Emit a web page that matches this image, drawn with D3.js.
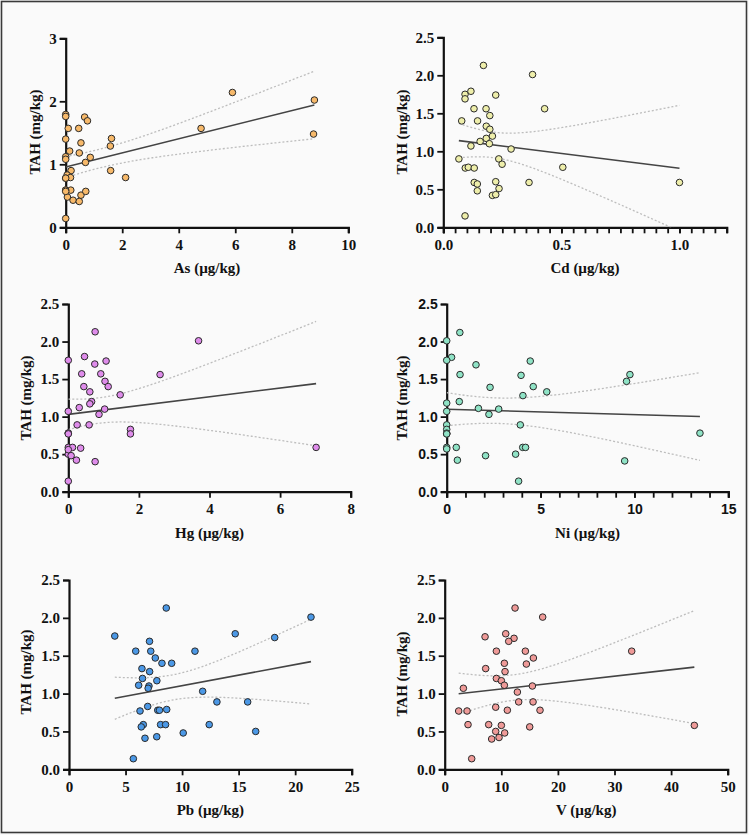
<!DOCTYPE html>
<html><head><meta charset="utf-8">
<script src="https://cdn.jsdelivr.net/npm/d3@7"></script>
<style>
html,body{margin:0;padding:0;background:#fafafa;}
svg{display:block;}
</style></head>
<body>
<svg id="chart" width="749" height="835"></svg>
<script>
// ---------- data ----------
const asX = [0,0,0,0.09,0.14,0,0,0.19,0.05,0,0.17,0,0.18,0.06,0.26,0,0.46,0.67,0.77,0.54,0.48,0.87,0.70,0.54,0.48,0.71,1.58,1.62,1.59,2.12,4.79,5.90,8.80,8.77,0,0,0];
const asY = [1.79,1.76,1.40,1.57,1.21,1.12,1.08,0.90,0.83,0.78,0.79,0.59,0.59,0.48,0.43,0.14,1.57,1.75,1.69,1.34,1.18,1.11,1.03,0.51,0.41,0.57,1.29,1.41,0.90,0.79,1.57,2.14,2.02,1.48,0.78,0.59,0.57];

const cdX = [0.170,0.378,0.092,0.117,0.092,0.222,0.130,0.181,0.429,0.197,0.078,0.145,0.182,0.197,0.182,0.208,0.156,0.195,0.117,0.287,0.066,0.235,0.249,0.093,0.106,0.131,0.506,0.131,0.144,0.144,0.222,0.236,0.208,0.222,0.363,0.092,1.0];
const cdY = [2.13,2.01,1.75,1.79,1.69,1.74,1.56,1.56,1.56,1.47,1.40,1.40,1.33,1.29,1.17,1.20,1.13,1.10,1.07,1.03,0.90,0.90,0.83,0.78,0.79,0.78,0.79,0.59,0.57,0.48,0.60,0.51,0.42,0.43,0.59,0.15,0.59];

const hgX = [0.76,3.69,0,0.46,0.75,1.07,0.38,0.92,2.60,1.04,0.44,1.13,0.61,1.47,0.66,0.61,0.31,1.03,0,0.87,0.25,0.59,0,1.76,1.76,0,0.12,0.35,0,0.08,0.23,0.76,0,7.02,0,0,0];
const hgY = [2.13,2.01,1.75,1.80,1.70,1.74,1.57,1.57,1.56,1.47,1.40,1.40,1.33,1.29,1.20,1.17,1.12,1.10,1.07,1.03,0.89,0.89,0.78,0.83,0.77,0.59,0.59,0.58,0.50,0.48,0.42,0.40,0.14,0.59,0.78,0.77,0.56];

const niX = [0.70,0,0.26,0,1.56,4.45,0.71,3.96,9.76,9.58,2.31,4.61,5.33,4.06,0,0.67,1.69,2.77,0,2.25,0,3.92,0,0,13.49,0,0,0.51,4.05,4.20,0.57,2.07,3.67,9.48,3.83,0,0];
const niY = [2.12,2.01,1.79,1.75,1.69,1.74,1.56,1.55,1.56,1.47,1.39,1.40,1.33,1.28,1.18,1.20,1.11,1.10,1.07,1.03,0.89,0.89,0.83,0.78,0.78,0.59,0.57,0.59,0.59,0.59,0.42,0.48,0.50,0.41,0.14,0.77,0.77];

const pbX = [4.05,8.60,21.40,14.70,18.19,5.90,7.12,7.23,11.14,7.63,8.22,9.08,6.45,7.13,6.50,7.77,6.16,7.07,7.00,11.82,13.08,15.80,6.96,6.28,7.85,8.00,8.64,6.57,6.39,8.10,8.54,12.40,6.72,7.76,10.10,16.51,5.69];
const pbY = [1.76,2.13,2.01,1.79,1.74,1.56,1.69,1.56,1.56,1.47,1.40,1.40,1.33,1.29,1.20,1.17,1.11,1.10,1.07,1.03,0.89,0.89,0.83,0.77,0.78,0.78,0.79,0.59,0.56,0.59,0.59,0.59,0.41,0.43,0.48,0.50,0.14];

const vX = [12.43,17.31,10.78,12.25,7.13,11.31,9.13,14.25,15.67,33.04,10.54,14.43,7.24,10.66,9.13,10.01,10.54,3.30,15.49,12.84,13.07,15.61,9.01,2.47,3.95,11.07,16.84,4.12,7.77,10.01,15.02,44.11,9.01,10.60,8.30,9.60,4.77];
const vY = [2.13,2.01,1.79,1.73,1.75,1.69,1.56,1.56,1.47,1.56,1.40,1.39,1.33,1.29,1.20,1.17,1.11,1.07,1.10,1.02,0.89,0.89,0.82,0.77,0.77,0.78,0.78,0.59,0.59,0.58,0.56,0.58,0.50,0.48,0.40,0.42,0.14];

const xTitles = ["As (µg/kg)","Cd (µg/kg)","Hg (µg/kg)","Ni (µg/kg)","Pb (µg/kg)","V (µg/kg)"];
const yTitle = "TAH (mg/kg)";
const xTickVals = [[0,2,4,6,8,10],[0,0.5,1.0],[0,2,4,6,8],[0,5,10,15],[0,5,10,15,20,25],[0,10,20,30,40,50]];
const xTickLabels = [["0","2","4","6","8","10"],["0.0","0.5","1.0"],["0","2","4","6","8"],["0","5","10","15"],["0","5","10","15","20","25"],["0","10","20","30","40","50"]];
const yTickVals = [[0,1,2,3],[0,0.5,1,1.5,2,2.5],[0,0.5,1,1.5,2,2.5],[0,0.5,1,1.5,2,2.5],[0,0.5,1,1.5,2,2.5],[0,0.5,1,1.5,2,2.5]];
const yTickLabels = [["0","1","2","3"],["0.0","0.5","1.0","1.5","2.0","2.5"],["0.0","0.5","1.0","1.5","2.0","2.5"],["0.0","0.5","1.0","1.5","2.0","2.5"],["0.0","0.5","1.0","1.5","2.0","2.5"],["0.0","0.5","1.0","1.5","2.0","2.5"]];
const xMinorVals = [[], d3.range(0,1.2001,0.05), [], d3.range(0,15.001,1), [], []];
const xDomains = [[0,10],[0,1.2],[0,8],[0,15],[0,25],[0,50]];
const yDomains = [[0,3],[0,2.5],[0,2.5],[0,2.5],[0,2.5],[0,2.5]];
const fills = ["#f7b96a","#eeeeaa","#df8ceb","#8fe3c6","#4b98e6","#ef9a98"];

// ---------- layout ----------
const panels = [
  {x:[65.7,348.3], y:[227.3,38.3], ty:132, tx:39.5},
  {x:[443.3,726.7], y:[227.3,37.3], ty:132, tx:407},
  {x:[68.3,350.7], y:[491.7,304], ty:398, tx:31},
  {x:[446.7,728.3], y:[491.7,304], ty:398, tx:407},
  {x:[69,351.7], y:[769.3,580], ty:672, tx:31},
  {x:[444.7,727.7], y:[769.3,580], ty:674, tx:407}
];
const seriesX = [asX,cdX,hgX,niX,pbX,vX];
const seriesY = [asY,cdY,hgY,niY,pbY,vY];

const SERIF = "Liberation Serif";
const SANS = "Liberation Sans";

const svg = d3.select("#chart");
svg.append("rect").attr("x",0).attr("y",0).attr("width",749).attr("height",835).attr("fill","#fafafa");
svg.append("rect").attr("x",1.5).attr("y",1.5).attr("width",745).attr("height",831)
   .attr("fill","none").attr("stroke","#3a3a3a").attr("stroke-width",1.6);

function fit(xs, ys){
  const n = xs.length;
  const mx = d3.mean(xs), my = d3.mean(ys);
  let sxx=0, sxy=0;
  for(let i=0;i<n;i++){ sxx += (xs[i]-mx)**2; sxy += (xs[i]-mx)*(ys[i]-my); }
  const b = sxy/sxx, a = my - b*mx;
  let sse=0; for(let i=0;i<n;i++){ sse += (ys[i]-a-b*xs[i])**2; }
  const s = Math.sqrt(sse/(n-2));
  return {a,b,s,n,mx,sxx};
}

panels.forEach((p,i)=>{
  const xs = d3.scaleLinear().domain(xDomains[i]).range(p.x);
  const ys = d3.scaleLinear().domain(yDomains[i]).range(p.y);
  const g = svg.append("g");
  const tickFam = (i===3) ? SANS : SERIF;
  const tickSize = (i===3) ? 14 : 15;

  if(xMinorVals[i].length){
    const minor = d3.axisBottom(xs).tickValues(xMinorVals[i]).tickSize(6).tickFormat("");
    const mg = g.append("g").attr("transform",`translate(0,${p.y[0]})`).call(minor);
    mg.select(".domain").remove();
    mg.selectAll("line").attr("stroke","#111").attr("stroke-width",1.8);
  }
  const xAxis = d3.axisBottom(xs).tickValues(xTickVals[i]).tickSize(6).tickPadding(6)
     .tickFormat((d,k)=>xTickLabels[i][k]);
  const xg = g.append("g").attr("transform",`translate(0,${p.y[0]})`).call(xAxis);
  const yAxis = d3.axisLeft(ys).tickValues(yTickVals[i]).tickSize(6).tickPadding(3)
     .tickFormat((d,k)=>yTickLabels[i][k]);
  const yg = g.append("g").attr("transform",`translate(${p.x[0]},0)`).call(yAxis);
  [xg,yg].forEach(ax=>{
    ax.attr("font-family",tickFam).attr("font-size",tickSize).attr("font-weight","bold");
    ax.select(".domain").attr("stroke","#111").attr("stroke-width",2.2);
    ax.selectAll(".tick line").attr("stroke","#111").attr("stroke-width",1.8);
    ax.selectAll(".tick text").attr("fill","#111");
  });

  // regression + 95% CI
  const X = seriesX[i], Y = seriesY[i];
  const f = fit(X,Y);
  const t = 2.03;
  const x0 = d3.min(X), x1 = d3.max(X);
  const grid = d3.range(0,101).map(k=>x0 + (x1-x0)*k/100);
  const se = x => f.s*Math.sqrt(1/f.n + (x-f.mx)**2/f.sxx);
  const clipId = "clip"+i;
  svg.append("clipPath").attr("id",clipId).append("rect")
     .attr("x",p.x[0]).attr("y",p.y[1]-2).attr("width",p.x[1]-p.x[0]).attr("height",p.y[0]-p.y[1]+2);
  const line = d3.line().x(d=>xs(d[0])).y(d=>ys(d[1]));
  const gc = g.append("g").attr("clip-path",`url(#${clipId})`);
  [1,-1].forEach(sg=>{
    gc.append("path").attr("d", line(grid.map(x=>[x, f.a+f.b*x + sg*t*se(x)])))
      .attr("fill","none").attr("stroke","#bdbdbd").attr("stroke-width",1.3).attr("stroke-dasharray","2,2");
  });
  gc.append("path").attr("d", line([[x0,f.a+f.b*x0],[x1,f.a+f.b*x1]]))
    .attr("fill","none").attr("stroke","#444").attr("stroke-width",1.6);

  g.selectAll("circle.pt").data(X.map((x,k)=>[x,Y[k]])).join("circle")
    .attr("class","pt").attr("cx",d=>xs(d[0])).attr("cy",d=>ys(d[1])).attr("r",3.3)
    .attr("fill",fills[i]).attr("stroke","#2a2a2a").attr("stroke-width",1);

  g.append("text").attr("x",(p.x[0]+p.x[1])/2).attr("y",p.y[0]+46)
    .attr("text-anchor","middle").attr("font-family",SERIF).attr("font-weight","bold")
    .attr("font-size",15).attr("fill","#111").text(xTitles[i]);
  g.append("text").attr("transform",`translate(${p.tx},${p.ty}) rotate(-90)`)
    .attr("text-anchor","middle").attr("font-family",SERIF).attr("font-weight","bold")
    .attr("font-size",15).attr("fill","#111").text(yTitle);
});
</script>
</body></html>
